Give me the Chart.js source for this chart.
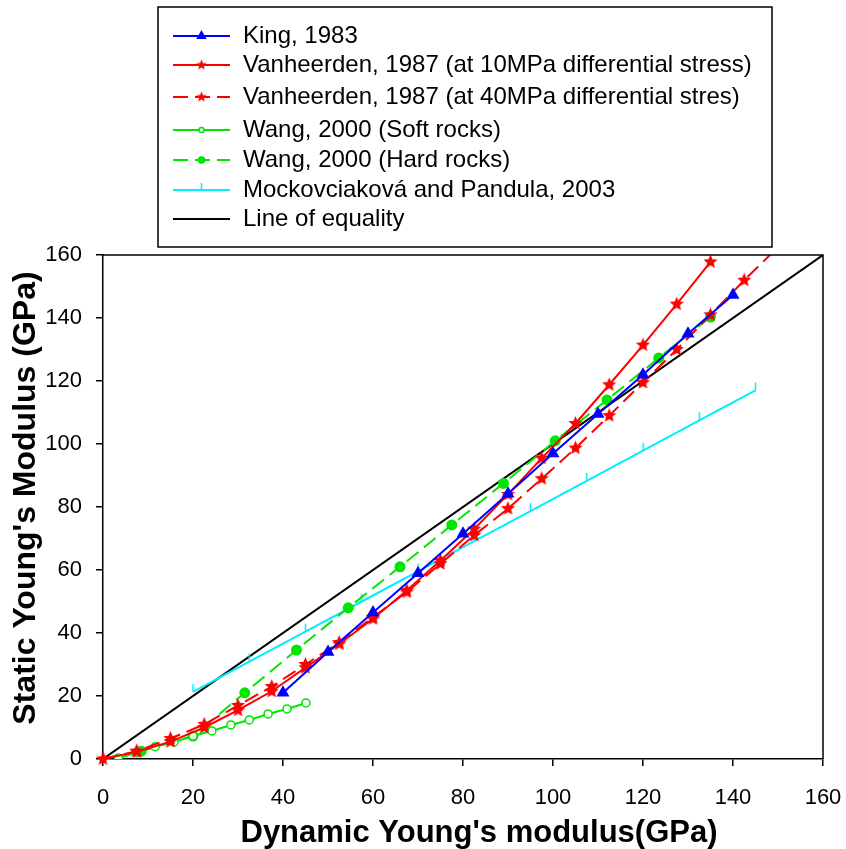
<!DOCTYPE html>
<html>
<head>
<meta charset="utf-8">
<script src="https://cdn.jsdelivr.net/npm/chart.js@4.4.1/dist/chart.umd.min.js"></script>
<style>
  html, body { margin: 0; padding: 0; background: #fff; }
  #wrap { width: 846px; height: 849px; }
</style>
</head>
<body>
<div id="wrap"><canvas id="modulusChart" width="846" height="849"></canvas></div>
<script>
// Series (GPa)
const kingX = [40, 50, 60, 70, 80, 90, 100, 110, 120, 130, 140];
const kingY = [21, 34, 46.5, 59, 71.5, 84.2, 97, 109.5, 122, 135, 147.3];

const van10X = [0, 7.5, 15, 22.5, 30, 37.5, 45, 52.5, 60, 67.5, 75, 82.5, 90, 97.5, 105, 112.5, 120, 127.5, 135];
const van10Y = [0, 2.3, 5.5, 10, 15.5, 21.5, 29, 36.5, 44.5, 53.5, 63, 73, 84, 95.5, 106.5, 118.8, 131.4, 144.4, 157.8];

const van40X = [0, 7.5, 15, 22.5, 30, 37.5, 45, 52.5, 60, 67.5, 75, 82.5, 90, 97.5, 105, 112.5, 120, 127.5, 135, 142.5, 150];
const van40Y = [0, 2.5, 6.5, 11, 17, 23, 30, 37, 45, 53, 62, 71, 79.5, 89, 98.7, 109, 119.5, 130, 141, 152, 162.5];

const wangSoftX = [3.4, 7.5, 11.6, 15.8, 20, 24.2, 28.4, 32.5, 36.7, 40.9, 45.1];
const wangSoftY = [0.3, 2, 3.9, 5.4, 7.3, 8.9, 10.8, 12.4, 14.3, 15.9, 17.8];

const wangHardX = [8.5, 20, 31.5, 43, 54.5, 66, 77.5, 89, 100.5, 112, 123.5, 135];
const wangHardY = [2.5, 7.3, 21, 34.6, 48, 61, 74.3, 87.5, 101, 114, 127.3, 140.3];

const mockX = [20, 32.5, 45, 57.5, 70, 82.5, 95, 107.5, 120, 132.5, 145];
const mockY = [21.3, 30.9, 40.4, 50, 59.6, 69.2, 78.7, 88.3, 97.9, 107.5, 117];

const equalityX = [0, 160];
const equalityY = [0, 160];

const seriesLabels = [
    'King, 1983',
    'Vanheerden, 1987 (at 10MPa differential stress)',
    'Vanheerden, 1987 (at 40MPa differential stres)',
    'Wang, 2000 (Soft rocks)',
    'Wang, 2000 (Hard rocks)',
    'Mockovciaková and Pandula, 2003',
    'Line of equality'
];
const xTitle = "Dynamic Young's modulus(GPa)";
const yTitle = "Static Young's Modulus (GPa)";

const RED = '#ff0000', BLUE = '#0000ff', GREEN = '#00e600', CYAN = '#00eeff';

function toPoints(xs, ys) {
    return xs.map((x, i) => ({ x: x, y: ys[i] }));
}

// filled 5-point star marker
function makeStar(r, color) {
    const size = Math.ceil(r * 2 + 2);
    const c = document.createElement('canvas');
    c.width = size; c.height = size;
    const g = c.getContext('2d');
    g.translate(size / 2, size / 2);
    g.beginPath();
    for (let i = 0; i < 10; i++) {
        const rad = i % 2 === 0 ? r : r * 0.45;
        const a = -Math.PI / 2 + i * Math.PI / 5;
        g.lineTo(rad * Math.cos(a), rad * Math.sin(a));
    }
    g.closePath();
    g.fillStyle = color;
    g.fill();
    return c;
}

// short upward tick marker, the point sits at its bottom
function makeTick(h, color) {
    const c = document.createElement('canvas');
    c.width = 3; c.height = h * 2 + 2;
    const g = c.getContext('2d');
    g.strokeStyle = color;
    g.lineWidth = 1.5;
    g.beginPath();
    g.moveTo(1.5, 1);
    g.lineTo(1.5, h + 1);
    g.stroke();
    return c;
}

const starBig = makeStar(7.5, RED);
const starSmall = makeStar(5.5, RED);
const tickBig = makeTick(8, CYAN);
const tickSmall = makeTick(7, CYAN);

// legend drawn as a framed box above the plot
const boxLegend = {
    id: 'boxLegend',
    afterDraw(chart) {
        const ctx = chart.ctx;
        const rowY = [36, 65, 97, 130, 160, 190, 219];
        ctx.save();
        ctx.strokeStyle = '#000';
        ctx.lineWidth = 1.5;
        ctx.strokeRect(158, 7, 614, 240);

        chart.data.datasets.forEach((ds, i) => {
            const y = rowY[i];
            ctx.strokeStyle = ds.borderColor;
            ctx.lineWidth = ds.borderWidth;
            ctx.setLineDash(ds.borderDash || []);
            ctx.beginPath();
            ctx.moveTo(173, y);
            ctx.lineTo(230, y);
            ctx.stroke();
            ctx.setLineDash([]);
            const m = ds.legendMarker;
            if (m) {
                ctx.fillStyle = ds.pointBackgroundColor;
                ctx.strokeStyle = ds.pointBorderColor;
                ctx.lineWidth = 1.5;
                Chart.helpers.drawPoint(ctx, {
                    pointStyle: m,
                    radius: ds.legendRadius || 3,
                    rotation: 0,
                    borderWidth: 1.5
                }, 201.5, y);
            }
            ctx.fillStyle = '#000';
            ctx.font = '24px "Liberation Sans", Arial, sans-serif';
            ctx.textBaseline = 'middle';
            ctx.textAlign = 'left';
            ctx.fillText(ds.label, 243, y);
        });
        ctx.restore();
    }
};

// top/right frame and the two axis titles
const frameAndTitles = {
    id: 'frameAndTitles',
    afterDraw(chart) {
        const { ctx, chartArea } = chart;
        ctx.save();
        ctx.strokeStyle = '#000';
        ctx.lineWidth = 1.5;
        ctx.beginPath();
        ctx.moveTo(chartArea.left, chartArea.top);
        ctx.lineTo(chartArea.right, chartArea.top);
        ctx.lineTo(chartArea.right, chartArea.bottom);
        ctx.stroke();

        ctx.fillStyle = '#000';
        ctx.textAlign = 'center';
        ctx.textBaseline = 'alphabetic';
        ctx.font = 'bold 31px "Liberation Sans", Arial, sans-serif';
        ctx.fillText(xTitle, 479, 842);

        ctx.translate(35, 498);
        ctx.rotate(-Math.PI / 2);
        ctx.font = 'bold 32px "Liberation Sans", Arial, sans-serif';
        ctx.fillText(yTitle, 0, 0);
        ctx.restore();
    }
};

const ctx = document.getElementById('modulusChart').getContext('2d');
const modulusChart = new Chart(ctx, {
    type: 'scatter',
    data: {
        datasets: [{
            label: seriesLabels[0],
            data: toPoints(kingX, kingY),
            showLine: true,
            borderColor: BLUE,
            borderWidth: 2,
            pointStyle: 'triangle',
            pointRadius: 5.5,
            pointBackgroundColor: BLUE,
            pointBorderColor: BLUE,
            legendMarker: 'triangle',
            legendRadius: 4.5
        }, {
            label: seriesLabels[1],
            data: toPoints(van10X, van10Y),
            showLine: true,
            borderColor: RED,
            borderWidth: 2,
            pointStyle: starBig,
            pointRadius: 7,
            pointBackgroundColor: RED,
            pointBorderColor: RED,
            legendMarker: starSmall
        }, {
            label: seriesLabels[2],
            data: toPoints(van40X, van40Y),
            showLine: true,
            borderColor: RED,
            borderWidth: 2,
            borderDash: [15, 7],
            pointStyle: starBig,
            pointRadius: 7,
            pointBackgroundColor: RED,
            pointBorderColor: RED,
            legendMarker: starSmall,
            clip: { left: 10, top: 0, right: 10, bottom: 10 }
        }, {
            label: seriesLabels[3],
            data: toPoints(wangSoftX, wangSoftY),
            showLine: true,
            borderColor: GREEN,
            borderWidth: 2,
            pointStyle: 'circle',
            pointRadius: 4,
            pointBorderWidth: 1.5,
            pointBackgroundColor: '#ffffff',
            pointBorderColor: GREEN,
            legendMarker: 'circle',
            legendRadius: 2.5
        }, {
            label: seriesLabels[4],
            data: toPoints(wangHardX, wangHardY),
            showLine: true,
            borderColor: GREEN,
            borderWidth: 2,
            borderDash: [15, 7],
            pointStyle: 'circle',
            pointRadius: 4.5,
            pointBackgroundColor: GREEN,
            pointBorderColor: GREEN,
            legendMarker: 'circle',
            legendRadius: 3
        }, {
            label: seriesLabels[5],
            data: toPoints(mockX, mockY),
            showLine: true,
            borderColor: CYAN,
            borderWidth: 2,
            pointStyle: tickBig,
            pointRadius: 8,
            pointBackgroundColor: CYAN,
            pointBorderColor: CYAN,
            legendMarker: tickSmall
        }, {
            label: seriesLabels[6],
            data: toPoints(equalityX, equalityY),
            showLine: true,
            borderColor: '#000000',
            borderWidth: 2,
            pointRadius: 0,
            legendMarker: null
        }]
    },
    options: {
        responsive: false,
        animation: false,
        events: [],
        layout: {
            padding: { top: 255, right: 23, left: 0, bottom: 0 }
        },
        elements: {
            line: { tension: 0 }
        },
        scales: {
            x: {
                type: 'linear',
                min: 0,
                max: 160,
                afterFit: s => { s.height = 90; s.paddingLeft = 0; s.paddingRight = 0; },
                ticks: {
                    stepSize: 20,
                    padding: 19,
                    color: '#000',
                    font: { family: '"Liberation Sans", Arial, sans-serif', size: 22 }
                },
                grid: {
                    drawOnChartArea: false,
                    drawTicks: true,
                    tickLength: 7,
                    color: '#000',
                    lineWidth: 1.5
                },
                border: { display: true, color: '#000', width: 1.5 }
            },
            y: {
                type: 'linear',
                min: 0,
                max: 160,
                afterFit: s => { s.width = 103; s.paddingTop = 0; s.paddingBottom = 0; },
                ticks: {
                    stepSize: 20,
                    padding: 14,
                    color: '#000',
                    font: { family: '"Liberation Sans", Arial, sans-serif', size: 22 }
                },
                grid: {
                    drawOnChartArea: false,
                    drawTicks: true,
                    tickLength: 7,
                    color: '#000',
                    lineWidth: 1.5
                },
                border: { display: true, color: '#000', width: 1.5 }
            }
        },
        plugins: {
            legend: { display: false },
            tooltip: { enabled: false }
        }
    },
    plugins: [boxLegend, frameAndTitles]
});
</script>
</body>
</html>
